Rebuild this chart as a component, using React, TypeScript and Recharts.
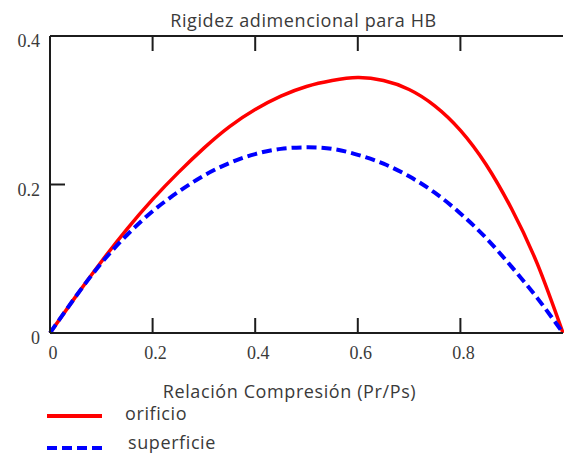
import React from 'react';
import { LineChart, Line, XAxis, YAxis, Legend } from 'recharts';

const xValues = [0, 0.05, 0.1, 0.15, 0.2, 0.25, 0.3, 0.35, 0.4, 0.45, 0.5, 0.55, 0.6, 0.65, 0.7, 0.75, 0.8, 0.85, 0.9, 0.95, 1.0];
const orificio = [0, 0.049, 0.096, 0.14, 0.18, 0.216, 0.249, 0.278, 0.301, 0.319, 0.332, 0.34, 0.344, 0.34, 0.328, 0.306, 0.273, 0.227, 0.167, 0.093, 0];
const superficie = [0, 0.049, 0.094, 0.132, 0.164, 0.19, 0.212, 0.229, 0.241, 0.248, 0.25, 0.248, 0.24, 0.228, 0.211, 0.189, 0.161, 0.128, 0.089, 0.047, 0];

const xTicks = [0, 0.2, 0.4, 0.6, 0.8];
const xTickLabels = ['0', '0.2', '0.4', '0.6', '0.8'];
const yTicks = [0, 0.2, 0.4];
const yTickLabels = ['0', '0.2', '0.4'];
const topTicks = [0.2, 0.4, 0.6, 0.8];

const title = 'Rigidez adimencional para HB';
const xAxisTitle = 'Relación Compresión (Pr/Ps)';
const seriesNames = ['orificio', 'superficie'];

const data = xValues.map((x, i) => ({ x, orificio: orificio[i], superficie: superficie[i] }));

const FRAME = '#1c1c1c';
const TICK_FONT = '"Liberation Serif", "DejaVu Serif", serif';
const SANS = '"Open Sans", "Noto Sans", sans-serif';
const TEXT = '#3a3a3a';

const BottomTick = (props: any) => {
  const { x, y, payload } = props;
  const i = xTicks.indexOf(payload.value);
  return (
    <g>
      <line x1={x} y1={y} x2={x} y2={y - 15} stroke={FRAME} strokeWidth={2} />
      <text x={x + 3} y={y + 26} textAnchor="middle" fontFamily={TICK_FONT} fontSize={18} fill={TEXT}>
        {i >= 0 ? xTickLabels[i] : ''}
      </text>
    </g>
  );
};

const TopTick = (props: any) => {
  const { x, y } = props;
  return <line x1={x} y1={y} x2={x} y2={y + 15} stroke={FRAME} strokeWidth={2} />;
};

const LeftTick = (props: any) => {
  const { x, y, payload } = props;
  const i = yTicks.indexOf(payload.value);
  return (
    <g>
      <line x1={x} y1={y} x2={x + 15} y2={y} stroke={FRAME} strokeWidth={2} />
      <text x={x - 10} y={y + 11} textAnchor="end" fontFamily={TICK_FONT} fontSize={18} fill={TEXT}>
        {i >= 0 ? yTickLabels[i] : ''}
      </text>
    </g>
  );
};

const RightTick = (props: any) => {
  const { x, y } = props;
  return <line x1={x} y1={y} x2={x - 14} y2={y} stroke={FRAME} strokeWidth={2} />;
};

const TitleLabel = (props: any) => {
  const vb = props.viewBox || {};
  return (
    <text x={vb.x + vb.width / 2 - 3} y={vb.y - 8} textAnchor="middle" fontFamily={SANS} fontSize={18} letterSpacing={0.6} fill={TEXT}>
      {title}
    </text>
  );
};

const XTitleLabel = (props: any) => {
  const vb = props.viewBox || {};
  return (
    <text x={vb.x + vb.width / 2 - 17} y={vb.y + 65} textAnchor="middle" fontFamily={SANS} fontSize={18} letterSpacing={0.6} fill={TEXT}>
      {xAxisTitle}
    </text>
  );
};

const LegendContent = (props: any) => {
  const payload = props.payload || [];
  return (
    <svg width={260} height={56} style={{ display: 'block', overflow: 'visible' }}>
      {payload.map((entry: any, i: number) => {
        const cy = 18 + i * 32;
        const dash = entry.payload && entry.payload.strokeDasharray;
        return (
          <g key={entry.value}>
            <line x1={47} y1={cy} x2={102} y2={cy} stroke={entry.color} strokeWidth={4} strokeDasharray={dash} />
            <text x={125 + i * 3} y={cy + 4 - i * 3} fontFamily={SANS} fontSize={18} letterSpacing={0.6} fill={TEXT}>
              {entry.value}
            </text>
          </g>
        );
      })}
    </svg>
  );
};

export default function App() {
  return (
    <div style={{ position: 'absolute', left: 0, top: 0, width: 564, height: 454, background: '#fff' }}>
      <LineChart width={564} height={454} data={data} margin={{ top: 35, right: 0, bottom: 120, left: 49 }}>
        <XAxis
          dataKey="x"
          type="number"
          domain={[0, 1]}
          ticks={xTicks}
          interval={0}
          height={1}
          tickSize={0}
          tickMargin={0}
          tickLine={false}
          axisLine={{ stroke: FRAME, strokeWidth: 2 }}
          tick={BottomTick}
          label={<XTitleLabel />}
        />
        <XAxis
          xAxisId="top"
          orientation="top"
          dataKey="x"
          type="number"
          domain={[0, 1]}
          ticks={topTicks}
          interval={0}
          height={1}
          tickSize={0}
          tickMargin={0}
          tickLine={false}
          axisLine={{ stroke: FRAME, strokeWidth: 2 }}
          tick={TopTick}
          label={<TitleLabel />}
        />
        <YAxis
          type="number"
          domain={[0, 0.4]}
          ticks={yTicks}
          interval={0}
          width={1}
          tickSize={0}
          tickMargin={0}
          tickLine={false}
          axisLine={{ stroke: FRAME, strokeWidth: 2 }}
          tick={LeftTick}
        />
        <YAxis
          yAxisId="right"
          orientation="right"
          type="number"
          domain={[0, 0.4]}
          ticks={yTicks}
          interval={0}
          width={1}
          tickSize={0}
          tickMargin={0}
          tickLine={false}
          axisLine={false}
          tick={RightTick}
        />
        <Legend
          layout="horizontal"
          verticalAlign="middle"
          align="center"
          wrapperStyle={{ left: 0, top: 398, width: 260, height: 56 }}
          content={<LegendContent />}
        />
        <Line
          type="natural"
          dataKey="orificio"
          name={seriesNames[0]}
          stroke="#ff0000"
          strokeWidth={3.5}
          dot={false}
          isAnimationActive={false}
        />
        <Line
          type="natural"
          dataKey="superficie"
          name={seriesNames[1]}
          stroke="#0000ff"
          strokeWidth={4}
          strokeDasharray="10 5"
          dot={false}
          isAnimationActive={false}
        />
      </LineChart>
    </div>
  );
}
